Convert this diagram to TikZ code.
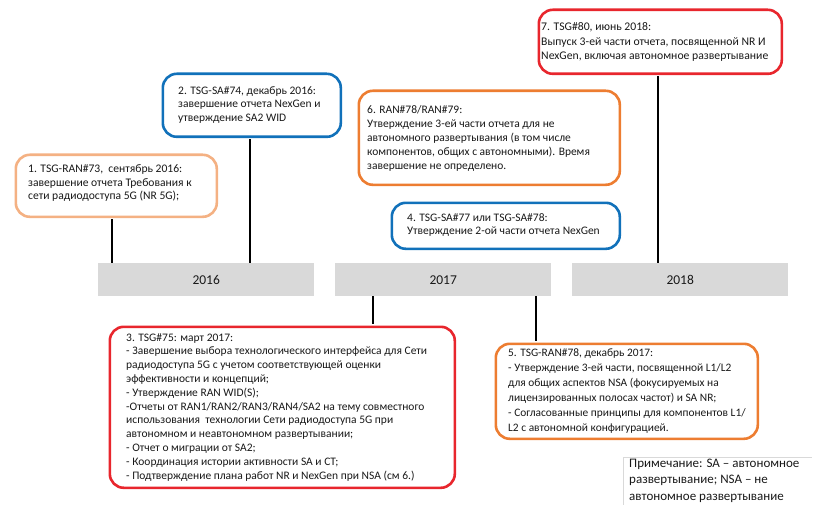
\documentclass[tikz,border=0pt]{standalone}
\usepackage{fontspec}
\setmainfont{Carlito}
\definecolor{peach}{RGB}{244,177,131}
\definecolor{ppblue}{RGB}{17,113,186}
\definecolor{pporange}{RGB}{237,125,49}
\definecolor{ppred}{RGB}{232,38,45}
\definecolor{bargray}{RGB}{217,217,217}
\definecolor{inkgray}{RGB}{25,25,25}
\tikzset{
  evbox/.style={draw=#1, line width=2.6pt, rounded corners=14pt, fill=white,
    anchor=north west, inner sep=0pt},
  evtext/.style={anchor=north west, align=left, inner sep=0pt, text=inkgray,
    font=\fontsize{11.5}{13.6}\selectfont},
  yearbar/.style={fill=bargray, anchor=north west, minimum width=216pt,
    minimum height=33pt, inner sep=0pt, text=inkgray,
    font=\fontsize{13.5}{16}\selectfont},
  stem/.style={line width=2.6pt, black},
}
\begin{document}
\begin{tikzpicture}[x=1pt,y=-1pt]
    \useasboundingbox (0,0) rectangle (818,505);
    % year bars
    \node[yearbar] (y2016) at (98,263) {2016};
    \node[yearbar] (y2017) at (335,263) {2017};
    \node[yearbar] (y2018) at (572,263) {2018};
    % event boxes
    \node[evbox=peach, minimum width=201pt, minimum height=62pt] (b1) at (14.5,153.5) {};
    \node[evbox=ppblue, minimum width=178pt, minimum height=63pt] (b2) at (161.5,72.5) {};
    \node[evbox=ppred, minimum width=345pt, minimum height=161pt] (b3) at (108.5,325.5) {};
    \node[evbox=ppblue, minimum width=228pt, minimum height=46pt] (b4) at (390.5,201.5) {};
    \node[evbox=pporange, minimum width=262pt, minimum height=95pt] (b5) at (494.5,342.5) {};
    \node[evbox=pporange, minimum width=261pt, minimum height=94pt] (b6) at (357.5,89.5) {};
    \node[evbox=ppred, minimum width=243pt, minimum height=64pt] (b7) at (537.5,8.5) {};
    % texts
    \node[evtext, font=\fontsize{11.6}{13.3}\selectfont] (t1) at (28,164.9) {1. TSG-RAN\#73,\ \ сентябрь 2016:\\
        завершение отчета Требования к\\
        сети радиодоступа 5G (NR 5G);};
    \node[evtext, font=\fontsize{11.5}{13.8}\selectfont] (t2) at (178,86) {2. TSG-SA\#74, декабрь 2016:\\
        завершение отчета NexGen и\\
        утверждение SA2 WID};
    \node[evtext, font=\fontsize{11.5}{13.8}\selectfont] (t3) at (126,333.2) {3. TSG\#75: март 2017:\\
        - Завершение выбора технологического интерфейса для Сети\\
        радиодоступа 5G с учетом соответствующей оценки\\
        эффективности и концепций;\\
        - Утверждение RAN WID(S);\\
        -Отчеты от RAN1/RAN2/RAN3/RAN4/SA2 на тему совместного\\
        использования\ \ технологии Сети радиодоступа 5G при\\
        автономном и неавтономном развертывании;\\
        - Отчет о миграции от SA2;\\
        - Координация истории активности SA и CT;\\
        - Подтверждение плана работ NR и NexGen при NSA (см 6.)};
    \node[evtext, font=\fontsize{11.5}{13.3}\selectfont] (t4) at (407,213) {4. TSG-SA\#77 или TSG-SA\#78:\\
        Утверждение 2-ой части отчета NexGen};
    \node[evtext, font=\fontsize{11.4}{15}\selectfont] (t5) at (508,349) {5. TSG-RAN\#78, декабрь 2017:\\
        - Утверждение 3-ей части, посвященной L1/L2\\
        для общих аспектов NSA (фокусируемых на\\
        лицензированных полосах частот) и SA NR;\\
        - Согласованные принципы для компонентов L1/\\
        L2 с автономной конфигурацией.};
    \node[evtext, font=\fontsize{11.5}{14}\selectfont] (t6) at (367,105) {6. RAN\#78/RAN\#79:\\
        Утверждение 3-ей части отчета для не\\
        автономного развертывания (в том числе\\
        компонентов, общих с автономными). Время\\
        завершение не определено.};
    \node[evtext, font=\fontsize{11.7}{14.3}\selectfont] (t7) at (541,22.8) {7. TSG\#80, июнь 2018:\\
        Выпуск 3-ей части отчета, посвященной NR И\\
        NexGen, включая автономное развертывание};
    % stems
    \coordinate (k1) at (112,0);
    \coordinate (k2) at (250,0);
    \coordinate (k3) at (373,0);
    \coordinate (k5) at (536,0);
    \coordinate (k7) at (658,0);
    \draw[stem, shorten <=1.3pt] (b1.south -| k1) -- (y2016.north -| k1);
    \draw[stem, shorten <=1.3pt] (b2.south -| k2) -- (y2016.north -| k2);
    \draw[stem, shorten >=1.3pt] (y2017.south -| k3) -- (b3.north -| k3);
    \draw[stem, shorten >=1.3pt] (y2017.south -| k5) -- (b5.north -| k5);
    \draw[stem, shorten <=1.3pt] (b7.south -| k7) -- (y2018.north -| k7);
    % note
    \node[anchor=north west, align=left, inner xsep=6pt, inner ysep=1.5pt, text=inkgray,
        font=\fontsize{13}{16.5}\selectfont] (note) at (623,457) {Примечание: SA – автономное\\
        развертывание; NSA – не\\
        автономное развертывание};
    \draw[bargray, line width=0.8pt] ([yshift=-6pt]note.south west) |- ([xshift=6pt]note.north east);
\end{tikzpicture}
\end{document}
